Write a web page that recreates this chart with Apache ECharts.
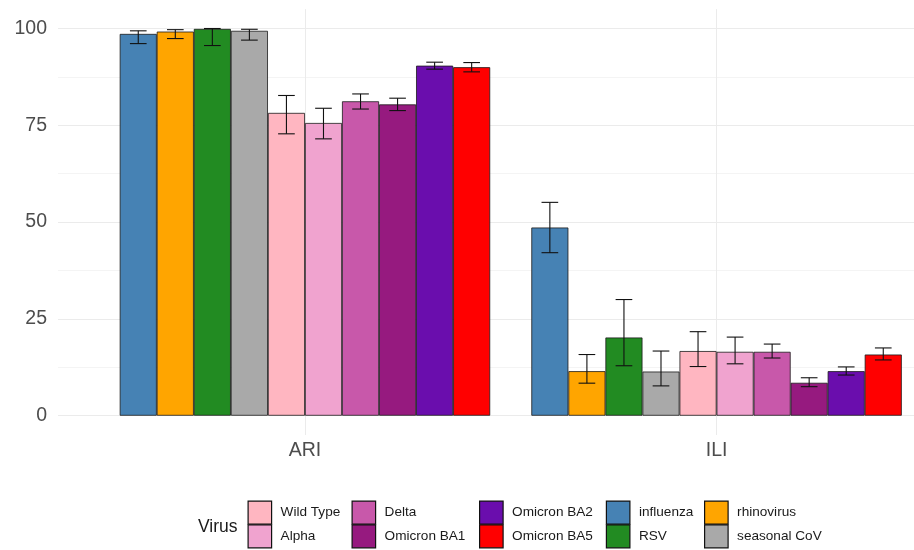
<!DOCTYPE html>
<html>
<head>
<meta charset="utf-8">
<script src="https://cdn.jsdelivr.net/npm/echarts@6/dist/echarts.min.js"></script>
<style>
  html, body { margin: 0; padding: 0; background: #fff; }
  #chart { width: 914px; height: 550px; }
</style>
</head>
<body>
<div id="chart"></div>
<script>
// ---- data ----
const groups = ['ARI', 'ILI'];
const viruses = ['influenza', 'rhinovirus', 'RSV', 'seasonal CoV', 'Wild Type', 'Alpha', 'Delta', 'Omicron BA1', 'Omicron BA2', 'Omicron BA5'];
const colors = ['#4682B4', '#FFA500', '#228B22', '#A9A9A9', '#FFB6C1', '#F0A3CF', '#C858AA', '#961A7F', '#6A0DAD', '#FF0000'];
const ariMean = [98.6, 99.2, 99.9, 99.4, 78.2, 75.6, 81.2, 80.4, 90.4, 90.0];
const ariLow  = [96.1, 97.4, 95.6, 97.0, 72.8, 71.5, 79.2, 78.8, 89.5, 88.8];
const ariHigh = [99.4, 99.7, 100.0, 99.8, 82.7, 79.4, 83.1, 82.0, 91.3, 91.2];
const iliMean = [48.6, 11.5, 20.2, 11.4, 16.7, 16.5, 16.5, 8.5, 11.5, 15.8];
const iliLow  = [42.1, 8.4, 12.9, 7.7, 12.7, 13.4, 14.9, 7.5, 10.5, 14.4];
const iliHigh = [55.1, 15.8, 30.0, 16.7, 21.7, 20.3, 18.5, 9.8, 12.6, 17.5];
const yTicks = [0, 25, 50, 75, 100];
const yMinorTicks = [12.5, 37.5, 62.5, 87.5];
const legendColumns = [
  ['Wild Type', 'Alpha'],
  ['Delta', 'Omicron BA1'],
  ['Omicron BA2', 'Omicron BA5'],
  ['influenza', 'RSV'],
  ['rhinovirus', 'seasonal CoV']
];
const legendTitle = 'Virus';

// ---- layout ----
const FONT = '"Liberation Sans", Arial, Helvetica, sans-serif';
const legendLefts = [247.5, 351.5, 479, 605.8, 704];
const legendTops = [500.5, 524.2];
const groupPos = groups.map((g, i) => i + 1);   // discrete positions 1, 2

const barSeries = viruses.map((name, i) => ({
  name: name,
  type: 'bar',
  barGap: '0%',
  barCategoryGap: '10%',
  itemStyle: { color: colors[i], borderColor: '#1a1a1a', borderWidth: 0.8 },
  emphasis: { disabled: true },
  data: [[groupPos[0], ariMean[i]], [groupPos[1], iliMean[i]]]
}));

const errData = [];
viruses.forEach((name, i) => {
  errData.push([groupPos[0], i, ariLow[i], ariHigh[i]]);
  errData.push([groupPos[1], i, iliLow[i], iliHigh[i]]);
});

const errSeries = {
  type: 'custom',
  name: 'err',
  z: 5,
  silent: true,
  encode: { x: 0, y: [2, 3] },
  data: errData,
  renderItem: function (params, api) {
    const g = api.value(0);
    const idx = api.value(1);
    const lo = api.coord([g, api.value(2)]);
    const hi = api.coord([g, api.value(3)]);
    const band = api.size([1, 0])[0];
    const bw = band * 0.9 / viruses.length;
    const x = lo[0] + (idx - (viruses.length - 1) / 2) * bw;
    const hw = bw * 0.225;
    const style = { stroke: '#111', lineWidth: 1.1, fill: null };
    return {
      type: 'group',
      children: [
        { type: 'line', shape: { x1: x, y1: lo[1], x2: x, y2: hi[1] }, style: style },
        { type: 'line', shape: { x1: x - hw, y1: lo[1], x2: x + hw, y2: lo[1] }, style: style },
        { type: 'line', shape: { x1: x - hw, y1: hi[1], x2: x + hw, y2: hi[1] }, style: style }
      ]
    };
  }
};

const legends = [];
legendColumns.forEach((col, k) => {
  col.forEach((name, r) => {
    legends.push({
      orient: 'horizontal',
      left: legendLefts[k],
      top: legendTops[r],
      padding: 0,
      itemWidth: 23.5,
      itemHeight: 23,
      icon: 'rect',
      selectedMode: false,
      data: [name],
      itemStyle: { borderColor: '#111111', borderWidth: 1.2 },
      textStyle: { fontFamily: FONT, fontSize: 13.6, color: '#1a1a1a', padding: [0, 0, 0, 4] }
    });
  });
});

// x scale: group 1 centred at 305px, 411.6px per unit, plot from 58px to 914px
const xMin = 0.4;
const xMax = 0.4 + (914 - 58) / 411.6;

const option = {
  animation: false,
  backgroundColor: '#ffffff',
  grid: { left: 58, right: 0, top: 9.14, bottom: 114.94 },
  xAxis: {
    type: 'value', min: xMin, max: xMax,
    axisLine: { show: false },
    axisTick: { show: false, customValues: groupPos },
    axisLabel: {
      customValues: groupPos,
      formatter: function (v) { return groups[Math.round(v) - 1] || ''; },
      fontFamily: FONT, fontSize: 19.5, color: '#4d4d4d', margin: 6
    },
    splitLine: { show: true, lineStyle: { color: '#ebebeb', width: 1 } }
  },
  yAxis: [
    { type: 'value', min: -5, max: 105,
      axisLine: { show: false },
      axisTick: { show: false, customValues: yTicks },
      axisLabel: { customValues: yTicks, fontFamily: FONT, fontSize: 19.5, color: '#4d4d4d', margin: 11 },
      splitLine: { show: true, lineStyle: { color: '#ebebeb', width: 1 } } },
    { type: 'value', min: -5, max: 105, position: 'left',
      axisLine: { show: false },
      axisTick: { show: false, customValues: yMinorTicks },
      axisLabel: { show: false, customValues: yMinorTicks },
      splitLine: { show: true, lineStyle: { color: '#efefef', width: 0.7 } } }
  ],
  legend: legends,
  graphic: [{
    type: 'text',
    left: 198,
    top: 518.5,
    style: { text: legendTitle, fontFamily: FONT, fontSize: 17.5, fill: '#1a1a1a' }
  }],
  series: barSeries.concat([errSeries])
};

const chart = echarts.init(document.getElementById('chart'), null, { renderer: 'canvas' });
chart.setOption(option);
</script>
</body>
</html>
